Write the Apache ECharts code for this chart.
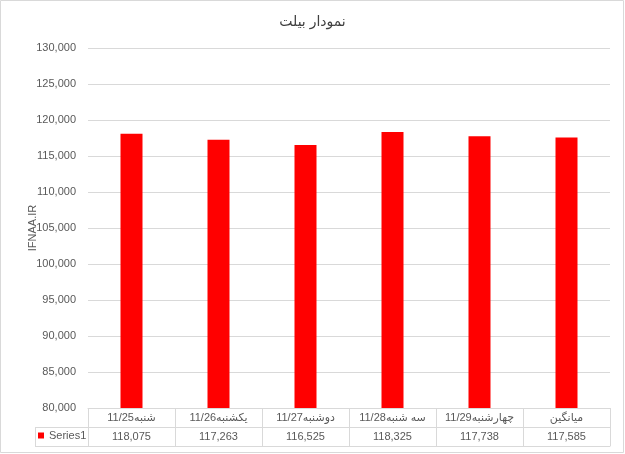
<!DOCTYPE html>
<html>
<head>
<meta charset="utf-8">
<script src="https://cdn.jsdelivr.net/npm/echarts@6/dist/echarts.min.js"></script>
<style>
html,body{margin:0;padding:0;background:#fff;}
#chart{width:625px;height:454px;}
</style>
</head>
<body>
<div id="chart"></div>
<script>
const categories = ['شنبه11/25', 'یکشنبه11/26', 'دوشنبه11/27', 'سه شنبه11/28', 'چهارشنبه11/29', 'میانگین'];
const values = [118075, 117263, 116525, 118325, 117738, 117585];
const seriesName = 'Series1';
const titleText = 'نمودار بیلت';
const yAxisName = 'IFNAA.IR';
const yMin = 80000, yMax = 130000, yStep = 5000;

const fmt = v => Number(v).toLocaleString('en-US');
const border = '#d9d9d9';
const txt = '#595959';
const ff = '"Liberation Sans", "DejaVu Sans", sans-serif';

const chart = echarts.init(document.getElementById('chart'));
chart.setOption({
  animation: false,
  textStyle: { fontFamily: ff },
  title: {
    text: titleText, left: 'center', top: 10,
    textStyle: { fontSize: 14, fontWeight: 'normal', color: '#404040', fontFamily: ff }
  },
  legend: {
    data: [seriesName], left: 38, top: 430, padding: 0,
    icon: 'rect', itemWidth: 6, itemHeight: 6, itemGap: 4,
    textStyle: { fontSize: 11, color: txt, fontFamily: ff }
  },
  grid: { left: 88, right: 15, top: 48, bottom: 46, containLabel: false },
  xAxis: [
    {
      type: 'category', data: categories, position: 'bottom',
      axisLine: { show: true, lineStyle: { color: border } },
      axisTick: { show: true, length: 38, lineStyle: { color: border } },
      axisLabel: { fontSize: 11, color: txt, margin: 4, interval: 0 }
    },
    {
      type: 'category', data: categories, position: 'bottom', offset: 19,
      axisLine: { show: true, lineStyle: { color: border } },
      axisTick: { show: false },
      axisLabel: { fontSize: 11, color: txt, margin: 4, interval: 0,
        formatter: (v, i) => fmt(values[i]) }
    },
    {
      type: 'category', data: categories, position: 'bottom', offset: 38,
      axisLine: { show: true, lineStyle: { color: border } },
      axisTick: { show: false },
      axisLabel: { show: false }
    }
  ],
  yAxis: {
    type: 'value', min: yMin, max: yMax, interval: yStep,
    name: yAxisName, nameLocation: 'middle', nameGap: 50, nameMoveOverlap: false,
    nameTextStyle: { fontSize: 11, color: txt, fontFamily: ff },
    axisLine: { show: false }, axisTick: { show: false },
    axisLabel: { fontSize: 11, color: txt, margin: 12, formatter: v => fmt(v) },
    splitLine: { lineStyle: { color: border } }
  },
  series: [{
    name: seriesName, type: 'bar', data: values, barWidth: 22,
    itemStyle: { color: '#ff0000' }
  }],
  graphic: [
    { type: 'rect', shape: { x: 0.5, y: 0.5, width: 623, height: 452 },
      style: { fill: null, stroke: border, lineWidth: 1 }, silent: true },
    { type: 'line', shape: { x1: 35, y1: 427.5, x2: 88, y2: 427.5 }, style: { stroke: border, lineWidth: 1 } },
    { type: 'line', shape: { x1: 35, y1: 446.5, x2: 88, y2: 446.5 }, style: { stroke: border, lineWidth: 1 } },
    { type: 'line', shape: { x1: 35.5, y1: 427, x2: 35.5, y2: 447 }, style: { stroke: border, lineWidth: 1 } }
  ]
});
</script>
</body>
</html>
